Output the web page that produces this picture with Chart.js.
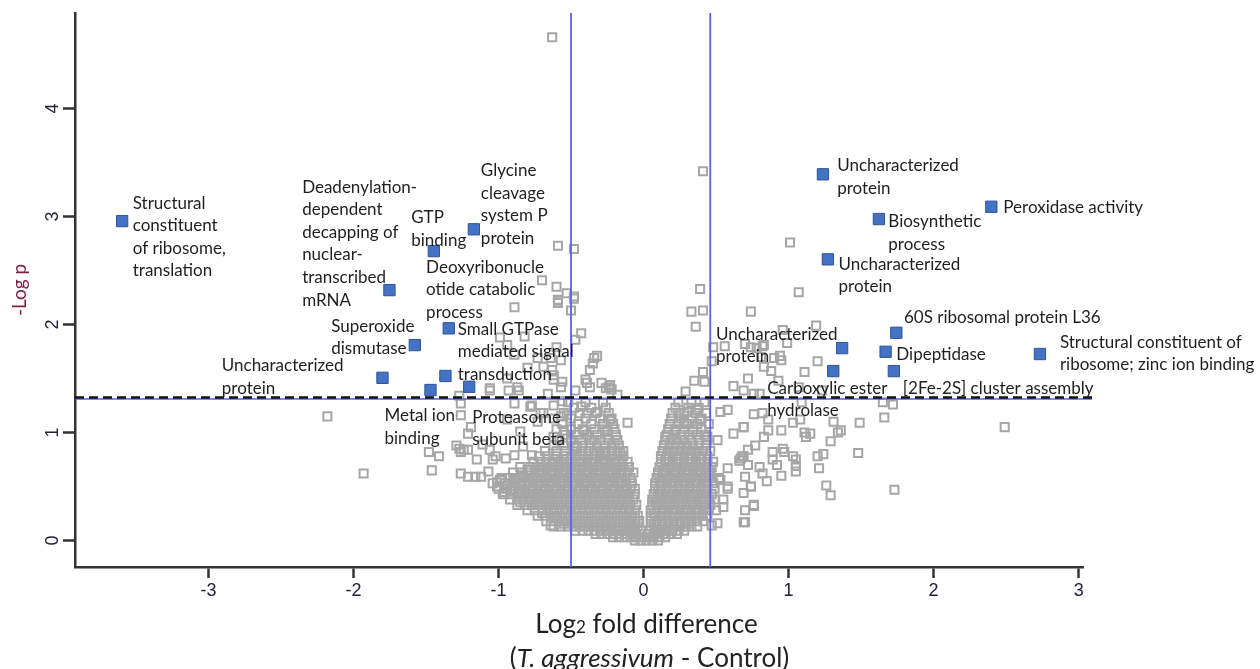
<!DOCTYPE html>
<html>
<head>
<meta charset="utf-8">
<script src="https://cdn.jsdelivr.net/npm/chart.js@4.4.1/dist/chart.umd.min.js"></script>
<style>
  html, body { margin: 0; padding: 0; background: #fff; }
  #wrap { width: 1260px; height: 669px; position: relative; }
</style>
</head>
<body>
<div id="wrap"><canvas id="volcanoChart"></canvas></div>
<script>
// highlighted proteins: log2 fold difference / -log p
const highlightX = [-3.595, -1.752, -1.446, -1.170, -1.366, -1.577, -1.800, -1.343, -1.469, -1.202,
                    1.237, 1.623, 2.398, 1.271, 1.743, 1.369, 1.669, 2.733, 1.726, 1.308];
const highlightY = [2.958, 2.319, 2.680, 2.882, 1.524, 1.810, 1.507, 1.965, 1.394, 1.424,
                    3.391, 2.977, 3.091, 2.604, 1.924, 1.782, 1.748, 1.727, 1.569, 1.569];
const highlightLabels = [
  ['Structural', 'constituent', 'of ribosome,', 'translation'],
  ['Deadenylation-', 'dependent', 'decapping of', 'nuclear-', 'transcribed', 'mRNA'],
  ['GTP', 'binding'],
  ['Glycine', 'cleavage', 'system P', 'protein'],
  ['Deoxyribonucle', 'otide catabolic', 'process'],
  ['Superoxide', 'dismutase'],
  ['Uncharacterized', 'protein'],
  ['Small GTPase', 'mediated signal', 'transduction'],
  ['Metal ion', 'binding'],
  ['Proteasome', 'subunit beta'],
  ['Uncharacterized', 'protein'],
  ['Biosynthetic', 'process'],
  ['Peroxidase activity'],
  ['Uncharacterized', 'protein'],
  ['60S ribosomal protein L36'],
  ['Uncharacterized', 'protein'],
  ['Dipeptidase'],
  ['Structural constituent of', 'ribosome; zinc ion binding'],
  ['[2Fe-2S] cluster assembly'],
  ['Carboxylic ester', 'hydrolase']
];
// where each label sits relative to its marker (px)
const labelOffsets = [
  [10.6, -18], [-87.3, -103], [-22.6, -33.3], [7, -58.6], [-19.3, -108.7],
  [-83.6, -19], [-160.7, -12], [9, 1], [-46, 26], [3, 30.3],
  [14.2, -8.6], [9.4, 2.7], [12, 1], [10.7, 5], [7.6, -15.4],
  [-126.2, -13.7], [10.7, 2.3], [20, -11.7], [9, 17.3], [-66, 17.3]
];

// scattered (non significant or unlabelled) proteins
const otherPoints = [
  [-0.63,4.66],[0.41,3.42],[-0.59,2.73],[-0.48,2.70],[1.01,2.76],
  [-0.70,2.41],[-0.60,2.35],[-0.53,2.29],[-0.48,2.26],[0.39,2.33],[1.07,2.30],[-0.59,2.23],
  [-0.48,2.24],[-0.50,2.13],[-0.43,1.92],[-0.47,1.86],[-0.32,1.71],[-0.34,1.69],[-0.35,1.64],[-0.37,1.58],
  [0.33,2.12],[0.41,2.13],[0.36,1.98],[0.74,2.12],[0.48,1.79],[0.56,1.80],[0.70,1.82],[0.47,1.66],
  [0.41,1.56],[0.35,1.48],[0.42,1.47],[0.72,1.50],[0.62,1.43],[-0.39,1.46],[-0.29,1.46],[-0.24,1.42],
  [-0.59,2.22],[-0.89,2.16],[-0.99,1.88],[-0.82,1.89],[-0.94,1.81],[-0.89,1.72],[-0.73,1.69],[-0.64,1.69],
  [-0.57,1.67],[-0.80,1.60],[-0.69,1.61],[-0.63,1.58],[-0.94,1.50],[-0.62,1.49],[-0.56,1.47],[-1.06,1.41],
  [-0.59,2.20],[-0.60,1.79],[-0.62,1.53],[-0.40,1.49],[-0.22,1.40],[-0.57,1.42],[-0.86,1.39],[-1.06,1.39],[-0.66,1.36],
  [0.29,1.38],[0.95,1.67],[1.11,1.56],[1.20,1.66],[1.19,1.99],[0.99,1.83],[0.82,1.80],[0.74,1.79],[0.88,1.57],
  [1.07,1.42],[0.76,1.36],[1.23,1.39],[0.96,1.95],[0.78,1.78],[0.83,1.81],[0.81,1.70],[0.90,1.69],[0.94,1.71],
  [0.83,1.61],[0.93,1.48],
  [0.69,1.39],[0.80,1.36],[1.09,1.28],[1.65,1.28],[1.72,1.26],[0.76,1.17],[0.82,1.18],[0.86,1.12],[1.03,1.09],
  [1.08,1.12],[1.31,1.10],[1.49,1.09],[1.66,1.14],[0.69,1.05],[0.86,1.02],[0.95,1.02],[1.11,1.00],[1.15,0.99],
  [1.12,0.96],[1.34,1.00],[1.36,1.02],[0.83,0.96],[1.29,0.92],[0.77,0.88],[0.72,0.84],[0.89,0.82],[0.96,0.85],
  [0.97,0.82],[1.03,0.78],[1.05,0.75],[1.20,0.78],[1.24,0.80],[1.48,0.81],[0.69,0.78],[0.89,0.75],[0.72,0.70],
  [0.80,0.68],[0.92,0.70],[1.05,0.69],[1.21,0.67],[0.82,0.62],[0.95,0.60],[1.05,0.64],[0.70,0.59],[0.85,0.55],
  [0.74,0.50],[1.26,0.51],[1.29,0.42],[1.73,0.47],[0.69,0.44],[0.76,0.32],[0.70,0.28],[0.70,0.17],
  [2.49,1.05],[-2.18,1.15],[-1.93,0.62],
  [-1.27,1.34],[-1.26,1.27],[-0.93,1.39],[-0.87,1.42],[-0.89,1.27],[-0.77,1.25],[-0.62,1.25],[-0.56,1.29],
  [-0.69,1.18],[-0.73,1.10],[-0.57,1.15],[-1.21,0.99],[-1.48,0.82],[-1.41,0.78],[-1.46,0.65],[-1.27,0.85],
  [-1.26,0.82],[-1.21,0.84],[-1.15,0.75],[-1.06,0.84],[-1.02,0.78],[-0.95,0.76],[-0.89,0.79],[-0.83,0.87],
  [-0.77,0.79],[-1.26,0.62],[-1.21,0.59],[-1.12,0.59],[-1.07,0.64],[-1.01,0.54],[-0.96,0.50],[-0.92,0.47],
  [-0.89,0.56],[-0.83,0.59],[-0.64,0.14],[-0.60,0.22],[-1.29,0.88],[-1.24,0.84],[-1.11,0.89],[-1.04,0.75],
  [-0.99,0.56],[-1.01,0.50],[-0.96,0.45],[-0.85,0.44],[-0.73,0.41],[-0.66,0.38],[-0.62,0.28],[-1.16,0.59],
  [-1.26,1.16],[-1.19,1.05],[-0.94,1.12],[-0.85,1.01],[-0.62,0.96],[-0.55,1.02],[-0.53,1.16],[-0.71,1.18],[-0.78,1.24],
  [-0.47,1.39],[-0.37,1.42],[-0.26,1.41],[-0.23,1.44],[-0.18,1.35],[-0.43,1.24],[-0.39,1.18],[-0.32,1.19],
  [-0.23,1.12],[-0.11,1.09],[-0.25,1.02],[-0.20,0.90],[-0.16,0.82],[-0.41,1.02],[-0.34,0.93],[-0.46,0.87],[-0.27,0.82],
  [0.53,0.56],[0.58,0.50],[0.74,0.50],[0.76,0.33],[0.55,0.31],[0.51,0.16],[0.69,0.17],[0.47,0.14],[0.67,0.76],
  [0.66,0.74],[0.68,0.78],[0.58,0.67],[0.51,0.93],[0.62,0.99],[0.69,1.05],[0.44,0.96],[0.53,1.19],[0.58,1.21],
  [0.39,1.12],[0.37,1.21],[0.30,1.19],[0.24,1.18],[0.28,1.09],[0.34,1.01],[0.22,1.02],[0.15,0.96]
];

// the crowded centre of the volcano, read row by row
const denseRowY = [0.00, 0.03, 0.06, 0.09, 0.13, 0.18, 0.23, 0.28, 0.33, 0.38, 0.43, 0.48, 0.53, 0.58,
                   0.63, 0.68, 0.73, 0.78, 0.83, 0.88, 0.93, 0.98, 1.03, 1.08, 1.13, 1.18, 1.23, 1.28,
                   0.155, 0.255, 0.355, 0.455, 0.555, 0.655, 0.755];
const denseRowX = [
  [-0.06,-0.02,0.02,0.06,0.10],
  [-0.21,-0.17,-0.13,-0.09,-0.05,-0.01,0.03,0.07,0.11,0.15],
  [-0.33,-0.29,-0.25,-0.21,-0.17,-0.13,-0.09,-0.05,0.03,0.07,0.11,0.15,0.19,0.23],
  [-0.47,-0.42,-0.38,-0.34,-0.30,-0.26,-0.22,-0.18,-0.14,-0.10,-0.06,-0.02,0.04,0.08,0.12,0.16,0.20,0.24,0.28],
  [-0.62,-0.57,-0.52,-0.48,-0.44,-0.40,-0.36,-0.32,-0.28,-0.24,-0.20,-0.16,-0.12,-0.08,-0.04,0.05,0.09,0.13,0.17,0.21,0.25,0.29,0.33,0.37],
  [-0.67,-0.62,-0.58,-0.54,-0.50,-0.46,-0.42,-0.38,-0.34,-0.30,-0.26,-0.22,-0.18,-0.14,-0.10,-0.06,-0.03,0.05,0.09,0.13,0.17,0.21,0.25,0.29,0.33,0.37,0.41],
  [-0.73,-0.68,-0.64,-0.60,-0.56,-0.52,-0.48,-0.44,-0.40,-0.36,-0.32,-0.28,-0.24,-0.20,-0.16,-0.12,-0.08,-0.04,0.05,0.08,0.12,0.16,0.20,0.24,0.28,0.32,0.36,0.40,0.44],
  [-0.80,-0.75,-0.70,-0.66,-0.62,-0.58,-0.54,-0.50,-0.46,-0.42,-0.38,-0.34,-0.30,-0.26,-0.22,-0.18,-0.14,-0.10,-0.06,0.05,0.09,0.13,0.17,0.21,0.25,0.29,0.33,0.37,0.41,0.45,0.50],
  [-0.87,-0.82,-0.77,-0.73,-0.69,-0.65,-0.61,-0.57,-0.53,-0.49,-0.45,-0.41,-0.37,-0.33,-0.29,-0.25,-0.21,-0.17,-0.13,-0.09,-0.05,0.06,0.10,0.14,0.18,0.22,0.26,0.30,0.34,0.38,0.42,0.46],
  [-0.92,-0.87,-0.83,-0.79,-0.75,-0.71,-0.67,-0.63,-0.59,-0.55,-0.51,-0.47,-0.43,-0.39,-0.35,-0.31,-0.27,-0.23,-0.19,-0.15,-0.11,-0.07,0.06,0.09,0.13,0.17,0.21,0.25,0.29,0.33,0.37,0.41,0.45,0.49,0.55],
  [-0.97,-0.91,-0.86,-0.82,-0.78,-0.74,-0.70,-0.66,-0.62,-0.58,-0.54,-0.50,-0.46,-0.42,-0.38,-0.34,-0.30,-0.26,-0.22,-0.18,-0.14,-0.10,-0.06,0.07,0.11,0.15,0.19,0.23,0.27,0.31,0.35,0.39,0.43,0.47],
  [-1.00,-0.94,-0.89,-0.85,-0.81,-0.77,-0.73,-0.69,-0.65,-0.61,-0.57,-0.53,-0.49,-0.45,-0.41,-0.37,-0.33,-0.29,-0.25,-0.21,-0.17,-0.13,-0.09,-0.06,0.08,0.12,0.16,0.20,0.24,0.28,0.32,0.36,0.40,0.44,0.49,0.58],
  [-1.04,-0.96,-0.90,-0.84,-0.80,-0.76,-0.72,-0.68,-0.64,-0.60,-0.56,-0.52,-0.48,-0.44,-0.40,-0.36,-0.32,-0.28,-0.24,-0.20,-0.16,-0.12,-0.08,0.08,0.12,0.16,0.20,0.24,0.28,0.32,0.36,0.40,0.44,0.48],
  [-0.98,-0.92,-0.86,-0.81,-0.77,-0.73,-0.69,-0.65,-0.61,-0.57,-0.53,-0.49,-0.45,-0.41,-0.37,-0.33,-0.29,-0.25,-0.21,-0.17,-0.13,-0.09,0.09,0.13,0.17,0.21,0.25,0.29,0.33,0.37,0.41,0.45,0.52],
  [-0.90,-0.84,-0.79,-0.75,-0.71,-0.67,-0.63,-0.59,-0.55,-0.51,-0.47,-0.43,-0.39,-0.35,-0.31,-0.27,-0.23,-0.19,-0.15,-0.11,-0.07,0.10,0.14,0.18,0.22,0.26,0.30,0.34,0.38,0.42,0.46],
  [-0.85,-0.78,-0.74,-0.70,-0.66,-0.62,-0.58,-0.54,-0.50,-0.46,-0.42,-0.38,-0.34,-0.30,-0.26,-0.22,-0.18,-0.14,-0.10,0.11,0.15,0.19,0.23,0.27,0.31,0.35,0.39,0.43,0.47],
  [-0.76,-0.71,-0.67,-0.63,-0.59,-0.55,-0.51,-0.47,-0.43,-0.39,-0.35,-0.31,-0.27,-0.23,-0.19,-0.15,-0.11,0.12,0.16,0.20,0.24,0.28,0.32,0.36,0.40,0.44,0.48],
  [-0.72,-0.66,-0.60,-0.55,-0.50,-0.46,-0.42,-0.38,-0.34,-0.30,-0.26,-0.22,-0.18,-0.14,0.12,0.16,0.20,0.24,0.28,0.32,0.36,0.40,0.44],
  [-0.68,-0.60,-0.54,-0.48,-0.43,-0.38,-0.34,-0.30,-0.26,-0.22,-0.18,-0.14,0.13,0.17,0.21,0.25,0.29,0.33,0.37,0.41,0.46],
  [-0.62,-0.55,-0.48,-0.42,-0.37,-0.32,-0.27,-0.22,-0.17,0.14,0.18,0.22,0.26,0.30,0.34,0.38,0.43],
  [-0.58,-0.50,-0.43,-0.36,-0.30,-0.24,-0.18,0.15,0.19,0.23,0.28,0.33,0.38,0.44],
  [-0.54,-0.46,-0.39,-0.32,-0.25,-0.19,0.16,0.21,0.26,0.31,0.37,0.42],
  [-0.60,-0.50,-0.42,-0.34,-0.27,-0.20,0.17,0.22,0.28,0.34,0.40],
  [-0.56,-0.45,-0.36,-0.28,-0.21,0.18,0.24,0.30,0.37,0.45],
  [-0.62,-0.50,-0.40,-0.30,-0.22,0.19,0.26,0.33,0.40],
  [-0.55,-0.44,-0.33,-0.24,0.20,0.28,0.36,0.43],
  [-0.48,-0.36,-0.26,0.22,0.31,0.38],
  [-0.52,-0.40,-0.28,0.24,0.33,0.42],
  [-0.55,-0.46,-0.38,-0.30,-0.22,-0.14,-0.06,0.07,0.15,0.23,0.31],
  [-0.70,-0.62,-0.54,-0.46,-0.38,-0.30,-0.22,-0.14,-0.06,0.07,0.14,0.22,0.30,0.38],
  [-0.85,-0.75,-0.67,-0.59,-0.51,-0.43,-0.35,-0.27,-0.19,-0.11,0.08,0.16,0.24,0.32,0.40],
  [-0.92,-0.84,-0.76,-0.68,-0.60,-0.52,-0.44,-0.36,-0.28,-0.20,-0.12,0.10,0.18,0.26,0.34,0.42],
  [-0.88,-0.79,-0.71,-0.63,-0.55,-0.47,-0.39,-0.31,-0.23,-0.15,0.11,0.19,0.27,0.35,0.43],
  [-0.80,-0.72,-0.64,-0.56,-0.48,-0.40,-0.32,-0.24,-0.16,0.13,0.21,0.29,0.37,0.45],
  [-0.62,-0.53,-0.44,-0.36,-0.28,-0.20,0.15,0.23,0.31,0.39]
];

const xTicks = [-3, -2, -1, 0, 1, 2, 3];
const yTicks = [0, 1, 2, 3, 4];
const foldCutoffs = [-0.5, 0.46];
const pCutoff = 1.32;

const FONT = 'Lato, "Open Sans", sans-serif';

// vertical fold-change lines and the p = 0.05 line
const cutoffLines = {
  id: 'cutoffLines',
  afterDatasetsDraw(chart) {
    const { ctx, chartArea, scales: { x, y } } = chart;
    ctx.save();
    ctx.strokeStyle = '#5a62e6';
    ctx.lineWidth = 1.8;
    foldCutoffs.forEach(v => {
      const px = x.getPixelForValue(v);
      ctx.beginPath();
      ctx.moveTo(px, chartArea.top);
      ctx.lineTo(px, chartArea.bottom);
      ctx.stroke();
    });
    const py = y.getPixelForValue(pCutoff);
    ctx.lineWidth = 1.5;
    ctx.beginPath();
    ctx.moveTo(chartArea.left, py + 1);
    ctx.lineTo(chartArea.right + 9, py + 1);
    ctx.stroke();
    ctx.strokeStyle = '#111';
    ctx.lineWidth = 2.6;
    ctx.setLineDash([9, 5]);
    ctx.beginPath();
    ctx.moveTo(chartArea.left, py - 0.5);
    ctx.lineTo(chartArea.right + 9, py - 0.5);
    ctx.stroke();
    ctx.restore();
  }
};

// protein names next to the blue markers
const pointLabels = {
  id: 'pointLabels',
  afterDatasetsDraw(chart) {
    const { ctx, scales: { x, y } } = chart;
    ctx.save();
    ctx.font = '17px ' + FONT;
    ctx.fillStyle = '#1f1f1f';
    ctx.textBaseline = 'middle';
    ctx.textAlign = 'left';
    highlightLabels.forEach((lines, i) => {
      const px = x.getPixelForValue(highlightX[i]);
      const py = y.getPixelForValue(highlightY[i]);
      const [dx, dy] = labelOffsets[i];
      lines.forEach((line, j) => ctx.fillText(line, px + dx, py + dy + j * 22.6));
    });
    ctx.restore();
  }
};

// rotated y tick labels and both axis titles
const axisText = {
  id: 'axisText',
  afterDraw(chart) {
    const { ctx, chartArea, scales: { x, y } } = chart;
    ctx.save();
    ctx.fillStyle = '#22223a';
    ctx.font = '18px "Liberation Sans", Arial, sans-serif';
    ctx.textAlign = 'center';
    ctx.textBaseline = 'middle';
    yTicks.forEach(v => {
      ctx.save();
      ctx.translate(53, y.getPixelForValue(v));
      ctx.rotate(-Math.PI / 2);
      ctx.fillText(String(v), 0, 0);
      ctx.restore();
    });

    // y title
    ctx.save();
    ctx.translate(20, (chartArea.top + chartArea.bottom) / 2);
    ctx.rotate(-Math.PI / 2);
    ctx.fillStyle = '#7e1f45';
    ctx.font = '19px ' + FONT;
    ctx.fillText('-Log p', 0, 0);
    ctx.restore();

    // x title, line 1 with small "2"
    const cx = x.getPixelForValue(0) + 3;
    ctx.fillStyle = '#222';
    ctx.textAlign = 'left';
    ctx.textBaseline = 'alphabetic';
    const big = '26px ' + FONT, small = '17px ' + FONT;
    const parts1 = [['Log', big], ['2', small], [' fold difference', big]];
    let w = 0;
    parts1.forEach(([t, f]) => { ctx.font = f; w += ctx.measureText(t).width; });
    let tx = cx - w / 2;
    parts1.forEach(([t, f]) => { ctx.font = f; ctx.fillText(t, tx, 633); tx += ctx.measureText(t).width; });

    // line 2 with italic species name
    const ital = 'italic 26px ' + FONT;
    const parts2 = [['(', big], ['T. aggressivum', ital], [' - Control)', big]];
    w = 0;
    parts2.forEach(([t, f]) => { ctx.font = f; w += ctx.measureText(t).width; });
    tx = cx + 3 - w / 2;
    parts2.forEach(([t, f]) => { ctx.font = f; ctx.fillText(t, tx, 667); tx += ctx.measureText(t).width; });
    ctx.restore();
  }
};

function build() {
  const ctx = document.getElementById('volcanoChart').getContext('2d');

  const dense = [];
  denseRowY.forEach((yy, r) => denseRowX[r].forEach(xx => dense.push({ x: xx, y: yy })));

  new Chart(ctx, {
    type: 'scatter',
    data: {
      datasets: [
        {
          label: 'Selected proteins',
          data: highlightX.map((v, i) => ({ x: v, y: highlightY[i] })),
          pointStyle: 'rect',
          pointRadius: 8,
          backgroundColor: '#4472c4',
          borderColor: '#2f5597',
          borderWidth: 1,
          order: 0
        },
        {
          label: 'Other proteins',
          data: otherPoints.map(p => ({ x: p[0], y: p[1] })).concat(dense),
          pointStyle: 'rect',
          pointRadius: 5.7,
          backgroundColor: 'rgba(255,255,255,0)',
          borderColor: '#a6a6a6',
          borderWidth: 2,
          order: 1
        }
      ]
    },
    options: {
      responsive: true,
      maintainAspectRatio: false,
      animation: false,
      events: [],
      layout: { padding: { top: 13, right: 177, left: 0, bottom: 0 } },
      scales: {
        x: {
          type: 'linear',
          min: -3.92,
          max: 3.03,
          afterBuildTicks: s => { s.ticks = xTicks.map(v => ({ value: v })); },
          afterFit: s => { s.height = 102; },
          ticks: {
            callback: v => String(v),
            font: { family: '"Liberation Sans", Arial, sans-serif', size: 18 },
            color: '#22223a',
            padding: 2,
            maxRotation: 0
          },
          grid: { drawOnChartArea: false, tickLength: 11, tickWidth: 2.5, tickColor: '#333' },
          border: { color: '#333', width: 2.5 }
        },
        y: {
          min: -0.245,
          max: 4.885,
          afterBuildTicks: s => { s.ticks = yTicks.map(v => ({ value: v })); },
          afterFit: s => { s.width = 75; },
          ticks: { display: false },
          grid: { drawOnChartArea: false, tickLength: 12, tickWidth: 2.5, tickColor: '#333' },
          border: { color: '#333', width: 2.5 }
        }
      },
      plugins: {
        legend: { display: false },
        tooltip: { enabled: false }
      }
    },
    plugins: [cutoffLines, pointLabels, axisText]
  });
}

document.fonts.load('17px Lato').then(build, build);
</script>
</body>
</html>
